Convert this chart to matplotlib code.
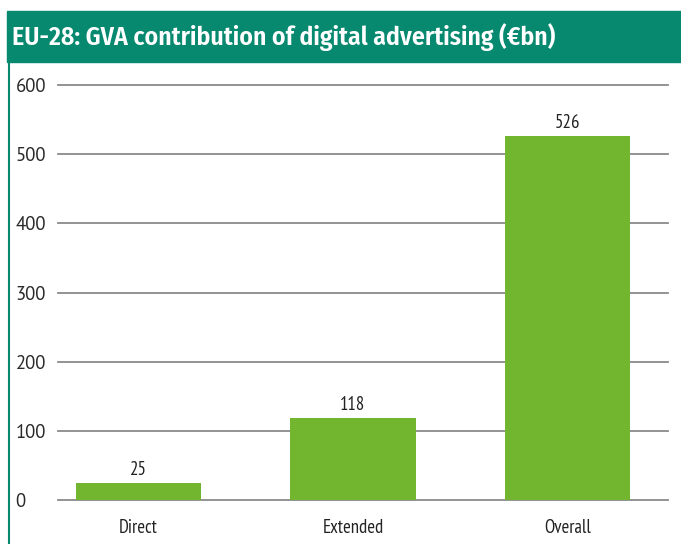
import matplotlib
matplotlib.use("Agg")
import matplotlib.pyplot as plt
from matplotlib.patches import Rectangle
from matplotlib.lines import Line2D

categories = ["Direct", "Extended", "Overall"]
values = [25, 118, 526]
yticks = [0, 100, 200, 300, 400, 500, 600]

HEADER = "#06896F"
BAR = "#72B52F"
GRID = "#8A8A8A"
TITLEF = ["Fira Sans Condensed", "DejaVu Sans"]
NARROW = ["PT Sans Narrow", "DejaVu Sans"]
REG = ["PT Sans", "DejaVu Sans"]

W, H = 681, 544
fig = plt.figure(figsize=(W / 100, H / 100), dpi=100)

# header band
fig.patches.append(Rectangle((7 / W, 1 - 62 / H), 1 - 7 / W, 51 / H,
                             transform=fig.transFigure, color=HEADER, zorder=0))
fig.text(12 / W, 1 - 37 / H, "EU-28: GVA contribution of digital advertising (€bn)",
         color="white", fontsize=18.5, fontweight=600, family=TITLEF,
         ha="left", va="center")
# left border
fig.lines.append(Line2D([8.5 / W, 8.5 / W], [0, 1 - 62 / H], transform=fig.transFigure,
                        color=HEADER, linewidth=1.5))

ax = fig.add_axes([58 / W, 44 / H, (668 - 58) / W, (500 - 85) / H])
x = list(range(len(categories)))
bars = ax.bar(x, values, width=0.584, color=BAR, zorder=3)
ax.set_xlim(-0.376, 2.47)
ax.set_ylim(0, 600)
ax.set_yticks(yticks)
ax.set_yticklabels([str(t) for t in yticks], fontsize=13.5, family=REG,
                   ha="left", color="#2a2a2a")
ax.tick_params(axis="y", length=0, pad=30.5)
ax.set_xticks(x)
ax.set_xticklabels(categories, fontsize=13.5, family=NARROW, color="#222222")
ax.tick_params(axis="x", length=0, pad=14)
ax.yaxis.grid(True, color=GRID, linewidth=1.3, zorder=0)
for gl in ax.get_ygridlines():
    gl.set_clip_on(False)
ax.set_axisbelow(True)
for s in ax.spines.values():
    s.set_visible(False)
for b, v in zip(bars, values):
    ax.annotate(str(v), (b.get_x() + b.get_width() / 2, v), xytext=(0, 3),
                textcoords="offset points", ha="center", va="bottom",
                fontsize=13.5, family=NARROW, color="#222222")

fig.savefig("out.png", dpi=100)
